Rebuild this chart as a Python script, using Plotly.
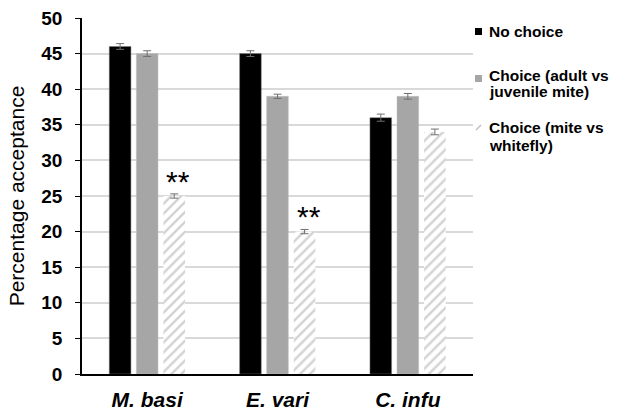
import plotly.graph_objects as go

species = ["<i>M. basi</i>", "<i>E. vari</i>", "<i>C. infu</i>"]
no_choice = [46, 45, 36]
no_choice_err = [0.4, 0.4, 0.5]
adult_vs_juv = [45, 39, 39]
adult_vs_juv_err = [0.4, 0.3, 0.4]
mite_vs_whitefly = [25, 20, 34]
mite_vs_whitefly_err = [0.3, 0.3, 0.4]
signif = ["**", "**", ""]
legend_labels = [["No choice"],
                 ["Choice (adult vs", "juvenile mite)"],
                 ["Choice (mite vs", "whitefly)"]]

FONT = "Liberation Sans, Arial, sans-serif"
W, H = 622, 410
M_L, M_R, M_T, M_B = 82, 149, 18, 36
PW, PH = W - M_L - M_R, H - M_T - M_B


def px_x(px):
    return (px - M_L) / PW


def px_y(py):
    return (H - M_B - py) / PH


err_style = dict(type="data", thickness=1, width=4, color="#6f6f6f")
GRAY = "#a6a6a6"

fig = go.Figure()
fig.add_trace(go.Bar(
    x=species, y=no_choice, name=legend_labels[0][0],
    marker=dict(color="black", line=dict(color="#7f7f7f", width=0.5)),
    error_y=dict(array=no_choice_err, **err_style),
))
fig.add_trace(go.Bar(
    x=species, y=adult_vs_juv, name=" ".join(legend_labels[1]),
    marker=dict(color=GRAY, line=dict(color="#bfbfbf", width=0.5)),
    error_y=dict(array=adult_vs_juv_err, **err_style),
))
fig.add_trace(go.Bar(
    x=species, y=mite_vs_whitefly, name=" ".join(legend_labels[2]),
    marker=dict(color="white", line=dict(color="white", width=0),
                pattern=dict(shape="/", fgcolor=GRAY, bgcolor="white",
                             size=7, solidity=0.35)),
    error_y=dict(array=mite_vs_whitefly_err, **err_style),
))

# significance marks above the hatched bars
for sp, val, err, mark in zip(species, mite_vs_whitefly, mite_vs_whitefly_err, signif):
    if mark:
        fig.add_annotation(
            x=sp, y=val + err, xshift=31, yshift=-6, text=mark, showarrow=False,
            xanchor="center", yanchor="bottom",
            font=dict(family=FONT, size=30, color="black"),
        )

# legend drawn at the right of the plot: swatches + labels
leg_font = dict(family=FONT, size=15.5, color="black", weight="bold")
text_x = px_x(487)
line_rows = [[31], [75, 92], [128, 145]]
for lines, rows in zip(legend_labels, line_rows):
    for txt, row in zip(lines, rows):
        fig.add_annotation(
            x=text_x, y=px_y(row), xref="paper", yref="paper",
            text=txt, showarrow=False, xanchor="left", yanchor="middle",
            font=leg_font,
        )
sw_x0, sw_x1 = px_x(475), px_x(482)
fig.add_shape(type="rect", xref="paper", yref="paper",
              x0=sw_x0, x1=sw_x1, y0=px_y(35), y1=px_y(28),
              fillcolor="black", line=dict(width=0))
fig.add_shape(type="rect", xref="paper", yref="paper",
              x0=sw_x0, x1=sw_x1, y0=px_y(82), y1=px_y(75),
              fillcolor=GRAY, line=dict(width=0))
fig.add_shape(type="line", xref="paper", yref="paper",
              x0=px_x(476), x1=px_x(481), y0=px_y(130), y1=px_y(125),
              line=dict(color="#bfbfbf", width=1.5))

fig.update_layout(
    width=W, height=H,
    margin=dict(l=M_L, r=M_R, t=M_T, b=M_B),
    paper_bgcolor="white", plot_bgcolor="white",
    barmode="group", bargap=0.377, bargroupgap=0.2,
    font=dict(family=FONT, color="black"),
    showlegend=False,
    xaxis=dict(
        showline=True, linecolor="black", linewidth=1.5, ticks="",
        tickfont=dict(family=FONT, size=21, weight="bold"),
        ticklabelstandoff=6, showgrid=False, automargin=False,
    ),
    yaxis=dict(
        range=[0, 50], dtick=5, showline=True, linecolor="black", linewidth=1.5,
        ticks="outside", ticklen=5, tickcolor="black", tickwidth=1,
        showgrid=True, gridcolor="#d9d9d9", gridwidth=1.5,
        tickfont=dict(family=FONT, size=19, weight="bold"),
        ticklabelstandoff=9, automargin=False,
        title=dict(text="Percentage acceptance", font=dict(family=FONT, size=21), standoff=11),
        zeroline=False,
    ),
)

fig.write_html("out.html")
